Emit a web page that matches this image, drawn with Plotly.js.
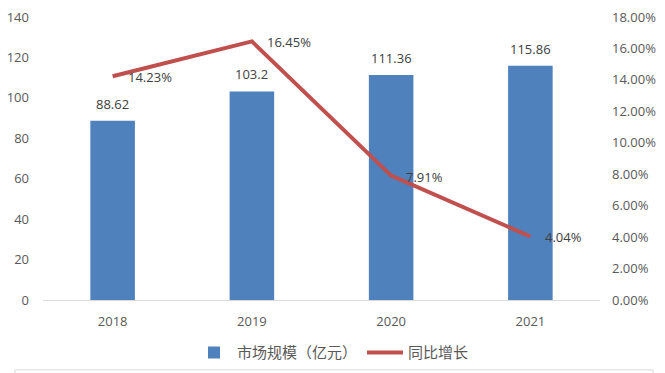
<!DOCTYPE html>
<html>
<head>
<meta charset="utf-8">
<script src="https://cdn.plot.ly/plotly-3.0.1.min.js"></script>
<style>html,body{margin:0;padding:0;background:#fff;}#chart{width:665px;height:373px;}</style>
</head>
<body>
<div id="chart"></div>
<script>
const years = ['2018', '2019', '2020', '2021'];
const marketSize = [88.62, 103.2, 111.36, 115.86];
const marketLabels = ['88.62', '103.2', '111.36', '115.86'];
const growth = [0.1423, 0.1645, 0.0791, 0.0404];
const growthLabels = ['14.23%', '16.45%', '7.91%', '4.04%'];
const seriesNames = ['市场规模（亿元）', '同比增长'];

const fontFam = '"Open Sans", "Noto Sans CJK SC", sans-serif';
const textColor = '#595959';
const labelColor = '#404040';

const traces = [
  {
    type: 'bar', x: years, y: marketSize, name: seriesNames[0],
    marker: {color: '#4F81BD'}, width: 0.32, hoverinfo: 'none'
  },
  {
    type: 'scatter', mode: 'lines', x: years, y: growth, yaxis: 'y2',
    name: seriesNames[1], line: {color: '#C0504D', width: 4}, hoverinfo: 'none'
  }
];

const annotations = [];
years.forEach((yr, i) => {
  annotations.push({
    x: i, y: marketSize[i], xref: 'x', yref: 'y', text: marketLabels[i],
    showarrow: false, xanchor: 'center', yanchor: 'bottom', yshift: 6,
    font: {family: fontFam, size: 13, color: labelColor}
  });
  annotations.push({
    x: i, y: growth[i], xref: 'x', yref: 'y2', text: growthLabels[i],
    showarrow: false, xanchor: 'left', yanchor: 'middle', xshift: 13, yshift: -1,
    font: {family: fontFam, size: 13, color: labelColor}
  });
});

const layout = {
  width: 665, height: 373,
  margin: {l: 43, r: 65, t: 17, b: 73, autoexpand: false},
  paper_bgcolor: '#fff', plot_bgcolor: '#fff',
  font: {family: fontFam, size: 13, color: textColor},
  showlegend: true,
  legend: {orientation: 'h', x: 0.5, xanchor: 'center', xref: 'container',
    y: 0.054, yanchor: 'middle', yref: 'container',
    font: {family: '"Noto Sans CJK SC", sans-serif', size: 15, color: textColor}, itemwidth: 36, tracegroupgap: 0},
  xaxis: {
    type: 'category', range: [-0.5, years.length - 0.5], showline: true, linecolor: '#D9D9D9', linewidth: 1,
    ticks: '', showgrid: false, tickfont: {size: 13, color: textColor}, ticklabelstandoff: 9, automargin: false
  },
  yaxis: {
    range: [0, 140], dtick: 20, showgrid: false, zeroline: false, showline: false,
    ticks: '', tickfont: {size: 13, color: textColor}, ticklabelstandoff: 13, automargin: false
  },
  yaxis2: {
    overlaying: 'y', side: 'right', range: [0, 0.18], dtick: 0.02, tickformat: '.2%',
    showgrid: false, zeroline: false, showline: false, ticks: '',
    tickfont: {size: 13, color: textColor}, ticklabelstandoff: 11, automargin: false
  },
  annotations: annotations,
  shapes: [
    {type: 'path', xref: 'paper', yref: 'paper',
     path: 'M -0.0503,-0.35 L -0.0503,-0.247 L 1.0952,-0.247 L 1.0952,-0.35',
     line: {color: '#D9D9D9', width: 1}}
  ]
};

Plotly.newPlot('chart', traces, layout, {staticPlot: true});
</script>
</body>
</html>
